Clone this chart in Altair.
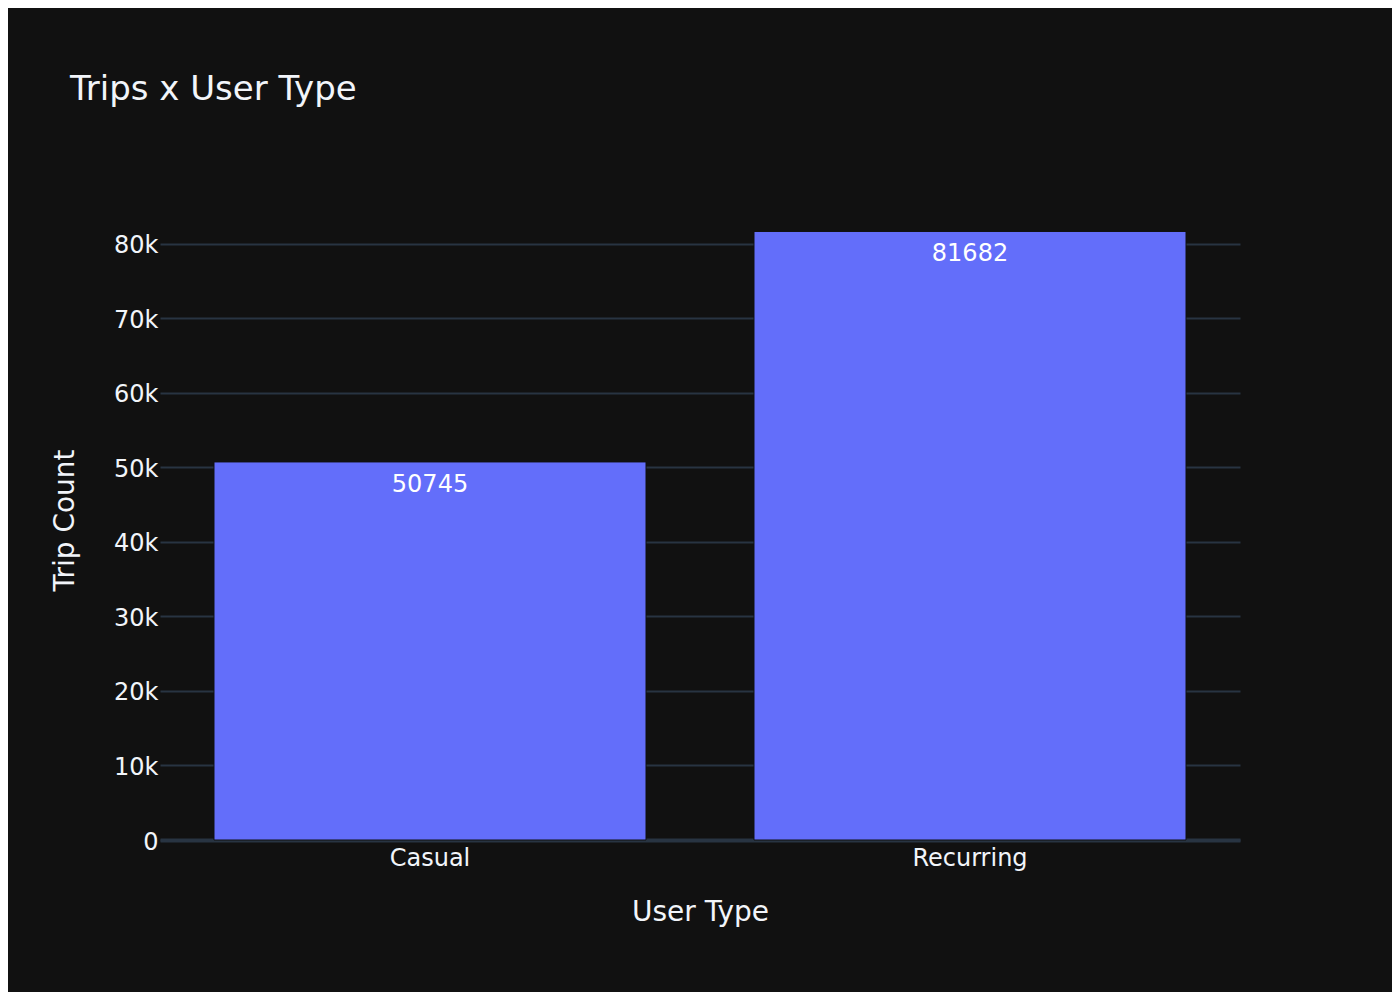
import altair as alt
import pandas as pd

user_types = ["Casual", "Recurring"]
trip_counts = [50745, 81682]
y_ticks = [0, 10000, 20000, 30000, 40000, 50000, 60000, 70000, 80000]

df = pd.DataFrame({"User Type": user_types, "Trip Count": trip_counts})

FONT = "DejaVu Sans"
TXT = "#f2f5fa"
GRID = "#283442"

base = alt.Chart(df)

bars = base.mark_bar(color="#636efa", stroke="#111111", strokeWidth=1).encode(
    x=alt.X(
        "User Type:N",
        sort=user_types,
        scale=alt.Scale(paddingInner=0.2, paddingOuter=0.1),
        axis=alt.Axis(
            title="User Type",
            labelAngle=0,
            labelFontSize=24,
            labelColor=TXT,
            labelFont=FONT,
            labelPadding=6,
            ticks=False,
            domain=True,
            domainColor=GRID,
            domainWidth=4,
            grid=False,
            titleFontSize=28,
            titleFont=FONT,
            titleColor=TXT,
            titleFontWeight="normal",
            titleX=540,
            titleY=72,
            titleBaseline="middle",
        ),
    ),
    y=alt.Y(
        "Trip Count:Q",
        scale=alt.Scale(domain=[0, 85906], nice=False, zero=True),
        axis=alt.Axis(
            title="Trip Count",
            values=y_ticks,
            labelExpr="datum.value == 0 ? '0' : format(datum.value / 1000, 'd') + 'k'",
            labelFontSize=24,
            labelColor=TXT,
            labelFont=FONT,
            labelPadding=2,
            labelOffset=2,
            ticks=False,
            domain=False,
            grid=True,
            gridColor=GRID,
            gridWidth=2,
            titleFontSize=28,
            titleFont=FONT,
            titleColor=TXT,
            titleFontWeight="normal",
            titleX=-95,
            titleY=320,
            titleAngle=270,
            titleBaseline="middle",
        ),
    ),
)

labels = base.mark_text(
    color="white", fontSize=24, font=FONT, baseline="middle", dy=23
).encode(
    x=alt.X("User Type:N", sort=user_types),
    y=alt.Y("Trip Count:Q"),
    text=alt.Text("Trip Count:Q", format="d"),
)

chart = (
    alt.layer(bars, labels)
    .properties(
        width=1080,
        height=640,
        background="#111111",
        padding={"left": 152, "top": 192, "right": 152, "bottom": 152},
        autosize=alt.AutoSizeParams(type="none"),
        title=alt.TitleParams(
            text="Trips x User Type",
            anchor="start",
            frame="group",
            fontSize=34,
            font=FONT,
            color=TXT,
            fontWeight="normal",
            baseline="alphabetic",
            dx=-90,
            dy=-62,
        ),
    )
    .configure_view(stroke=None)
)

chart.save("out.html", embed_options={"renderer": "svg", "actions": False})
